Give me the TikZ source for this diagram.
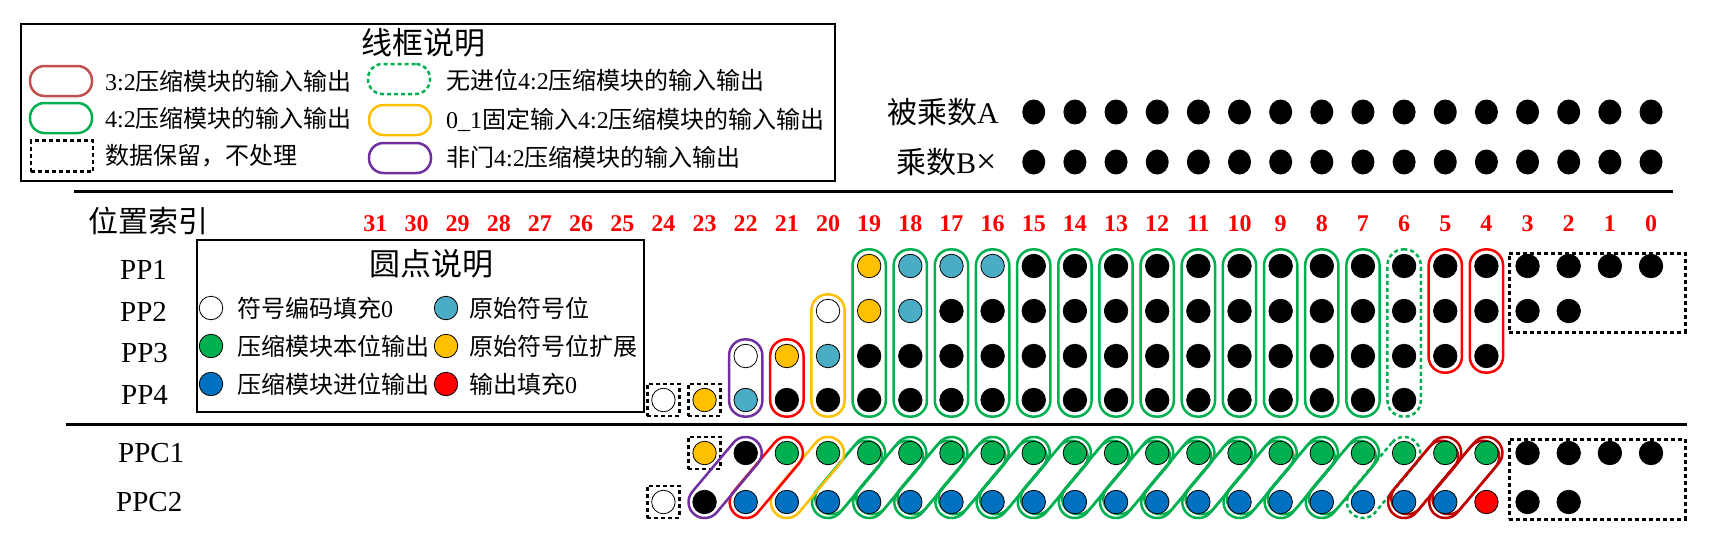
\documentclass[tikz,border=0pt]{standalone}
\usepackage{fontspec}
\newfontfamily\cjk{Noto Sans CJK SC}
\newfontfamily\lat{Liberation Serif}
\usetikzlibrary{fit,calc,backgrounds,shapes.geometric}
\definecolor{cgreen}{HTML}{00B050}
\definecolor{corange}{HTML}{FFC000}
\definecolor{cpurple}{HTML}{7030A0}
\definecolor{cteal}{HTML}{4BACC6}
\definecolor{cblue}{HTML}{0070C0}
\definecolor{cred}{HTML}{FF0000}
\definecolor{cdred}{HTML}{C00000}
\definecolor{cbrick}{HTML}{C0504D}
\newcommand{\fsz}[1]{\fontsize{#1}{#1}\selectfont}
\begin{document}
\begin{tikzpicture}[x=1pt,y=-1pt,
  pdot/.style={circle,minimum size=23.5pt,inner sep=0pt,draw=black,line width=0.8pt},
  bk/.style={pdot,fill=black},
  wt/.style={pdot,fill=white},
  tl/.style={pdot,fill=cteal},
  og/.style={pdot,fill=corange},
  gn/.style={pdot,fill=cgreen},
  bl/.style={pdot,fill=cblue},
  rd/.style={pdot,fill=cred},
  adot/.style={ellipse,minimum width=23pt,minimum height=25pt,inner sep=0pt,fill=black},
  grp/.style={rectangle,rounded corners=16pt,line width=2.5pt,inner sep=4.5pt},
  dgrp/.style={rectangle,rounded corners=15.9pt,line width=2.5pt,minimum height=32pt,inner sep=0pt,rotate=50},
  dsh/.style={dash pattern=on 4pt off 3pt},
  keepbox/.style={draw=black,line width=2.5pt,dsh,inner sep=4pt,rectangle},
  legshape/.style={rectangle,rounded corners=14.5pt,line width=2.5pt,minimum width=62pt,minimum height=30pt,inner sep=0pt},
  lt/.style={anchor=west,font=\cjk\fsz{24},inner sep=0pt},
  lgbox/.style={draw=black,line width=1.5pt,anchor=north west,inner sep=0pt,rectangle},
  numlab/.style={text=cred,font=\lat\bfseries\fsz{24},inner sep=0pt},
  rowl/.style={anchor=west,font=\lat\fsz{29},inner sep=0pt},
]
\useasboundingbox (0,0) rectangle (1718,544);

% ---------- legend 1 ----------
\node[lgbox,minimum width=814pt,minimum height=157pt] (legA) at (20,23) {};
\node[font=\cjk\fsz{31}] (t1) at (423,43) {线框说明};
\node[legshape,draw=cbrick] (l1) at (61,81) {};
\node[lt] (lt1) at (105,81) {{\lat 3:2}压缩模块的输入输出};
\node[legshape,draw=cgreen] (l2) at (61,118) {};
\node[lt] (lt2) at (105,118) {{\lat 4:2}压缩模块的输入输出};
\node[rectangle,draw=black,line width=2.5pt,dsh,minimum width=62pt,minimum height=31pt] (l3) at (62,156) {};
\node[lt] (lt3) at (105,156) {数据保留，不处理};
\node[legshape,draw=cgreen,dsh] (l4) at (399,79) {};
\node[lt] (lt4) at (446,80) {无进位{\lat 4:2}压缩模块的输入输出};
\node[legshape,draw=corange] (l5) at (400,120) {};
\node[lt] (lt5) at (446,120) {{\lat 0\_1}固定输入{\lat 4:2}压缩模块的输入输出};
\node[legshape,draw=cpurple] (l6) at (400,158) {};
\node[lt] (lt6) at (446,157) {非门{\lat 4:2}压缩模块的输入输出};

% ---------- multiplicand / multiplier ----------
\node[anchor=west,font=\cjk\fsz{30},inner sep=0pt] (ta) at (887,112) {被乘数{\lat A}};
\node[anchor=west,font=\cjk\fsz{30},inner sep=0pt] (tb) at (896,162) {乘数{\lat B}{\lat\fsz{36}×}};
\foreach \k in {0,...,15}{
  \node[adot] (a\k) at ({1651-41.15*\k},112) {};
  \node[adot] (b\k) at ({1651-41.15*\k},162) {};
}

% ---------- rules ----------
\coordinate (r1a) at (74,191); \coordinate (r1b) at (1673,191);
\coordinate (r2a) at (66,424); \coordinate (r2b) at (1687,424);
\draw[line width=3pt] (r1a) -- (r1b);
\draw[line width=3pt] (r2a) -- (r2b);

% ---------- position index ----------
\node[font=\cjk\fsz{30}] (tpos) at (148,221) {位置索引};
\foreach \k in {0,...,31}
  \node[numlab] (n\k) at ({1651-41.15*\k},224) {\k};

\node[rowl] (rp1) at (120,270) {PP1};
\node[rowl] (rp2) at (120,312) {PP2};
\node[rowl] (rp3) at (121,353) {PP3};
\node[rowl] (rp4) at (121,395) {PP4};
\node[rowl] (rc1) at (118,453) {PPC1};
\node[rowl] (rc2) at (116,502) {PPC2};

% ---------- legend 2 ----------
\node[lgbox,minimum width=447pt,minimum height=172pt] (legB) at (196,239) {};
\node[font=\cjk\fsz{31}] (t2) at (431,264) {圆点说明};
\node[wt] (k1) at (211,308) {};
\node[lt] (kt1) at (237,308) {符号编码填充{\lat 0}};
\node[tl] (k2) at (446,308) {};
\node[lt] (kt2) at (469,308) {原始符号位};
\node[gn] (k3) at (211,346) {};
\node[lt] (kt3) at (237,346) {压缩模块本位输出};
\node[og] (k4) at (446,346) {};
\node[lt] (kt4) at (469,346) {原始符号位扩展};
\node[bl] (k5) at (211,384) {};
\node[lt] (kt5) at (237,384) {压缩模块进位输出};
\node[rd] (k6) at (446,384) {};
\node[lt] (kt6) at (469,384) {输出填充{\lat 0}};

% ---------- partial products ----------
\foreach \k in {0,...,15} \node[bk] (p1-\k) at ({1651-41.15*\k},266) {};
\foreach \k/\s in {16/tl,17/tl,18/tl,19/og} \node[\s] (p1-\k) at ({1651-41.15*\k},266) {};
\foreach \k in {2,...,17} \node[bk] (p2-\k) at ({1651-41.15*\k},311) {};
\foreach \k/\s in {18/tl,19/og,20/wt} \node[\s] (p2-\k) at ({1651-41.15*\k},311) {};
\foreach \k in {4,...,19} \node[bk] (p3-\k) at ({1651-41.15*\k},356) {};
\foreach \k/\s in {20/tl,21/og,22/wt} \node[\s] (p3-\k) at ({1651-41.15*\k},356) {};
\foreach \k in {6,...,21} \node[bk] (p4-\k) at ({1651-41.15*\k},400) {};
\foreach \k/\s in {22/tl,23/og,24/wt} \node[\s] (p4-\k) at ({1651-41.15*\k},400) {};

% ---------- compressed outputs ----------
\foreach \k in {0,...,3} \node[bk] (c1-\k) at ({1651-41.15*\k},453) {};
\foreach \k in {4,...,21} \node[gn] (c1-\k) at ({1651-41.15*\k},453) {};
\node[bk] (c1-22) at ({1651-41.15*22},453) {};
\node[og] (c1-23) at ({1651-41.15*23},453) {};
\foreach \k in {2,3} \node[bk] (c2-\k) at ({1651-41.15*\k},502) {};
\node[rd] (c2-4) at ({1651-41.15*4},502) {};
\foreach \k in {5,...,22} \node[bl] (c2-\k) at ({1651-41.15*\k},502) {};
\node[bk] (c2-23) at ({1651-41.15*23},502) {};
\node[wt] (c2-24) at ({1651-41.15*24},502) {};

% ---------- group outlines ----------
\begin{scope}[on background layer]
\fill[white] (0,0) rectangle (1718,544);
\foreach \k in {7,...,19}
  \node[grp,draw=cgreen,fit=(p1-\k)(p4-\k)] (g\k) {};
\node[grp,draw=cgreen,dsh,fit=(p1-6)(p4-6)] (g6) {};
\node[grp,draw=cred,fit=(p1-5)(p3-5)] (g5) {};
\node[grp,draw=cred,fit=(p1-4)(p3-4)] (g4) {};
\node[grp,draw=corange,fit=(p2-20)(p4-20)] (g20) {};
\node[grp,draw=cred,fit=(p3-21)(p4-21)] (g21) {};
\node[grp,draw=cpurple,fit=(p3-22)(p4-22)] (g22) {};
\node[keepbox,fit=(p4-24)] (kp24) {};
\node[keepbox,fit=(p4-23)] (kp23) {};
\node[keepbox,anchor=north west,minimum width=176pt,minimum height=79pt,inner sep=0pt] (kpr) at (1508,252) {};
\node[keepbox,fit=(c1-23)] (kc23) {};
\node[keepbox,fit=(c2-24)] (kc24) {};
\node[keepbox,anchor=north west,minimum width=176pt,minimum height=80pt,inner sep=0pt] (kcr) at (1508,438) {};
\foreach \k in {7,...,19}{
  \pgfmathtruncatemacro\kk{\k+1}
  \node[dgrp,draw=cgreen,minimum width=96pt] (s\k) at ($(c1-\k)!0.5!(c2-\kk)$) {};
  \node[dgrp,draw=cgreen,minimum width=86pt] (si\k) at (s\k) {};
}
\node[dgrp,draw=cgreen,dsh,minimum width=96pt] (s6) at ($(c1-6)!0.5!(c2-7)$) {};
\foreach \k in {4,5}{
  \pgfmathtruncatemacro\kk{\k+1}
  \node[dgrp,draw=cdred,minimum width=96pt] (s\k) at ($(c1-\k)!0.5!(c2-\kk)$) {};
  \node[dgrp,draw=cdred,minimum width=86pt] (si\k) at (s\k) {};
}
\node[dgrp,draw=corange,minimum width=96pt] (s20) at ($(c1-20)!0.5!(c2-21)$) {};
\node[dgrp,draw=cred,minimum width=96pt] (s21) at ($(c1-21)!0.5!(c2-22)$) {};
\node[dgrp,draw=cpurple,minimum width=96pt] (s22) at ($(c1-22)!0.5!(c2-23)$) {};
\end{scope}
\end{tikzpicture}
\end{document}
